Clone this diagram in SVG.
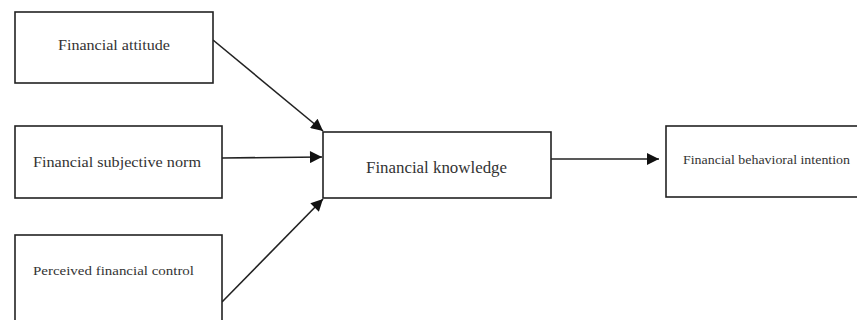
<svg xmlns="http://www.w3.org/2000/svg" width="857" height="320" viewBox="0 0 857 320">
<style>
.box{fill:#fff;stroke:#222;stroke-width:1.6}
.t{font-family:"Liberation Serif","Times New Roman",serif;fill:#333}
.c{stroke:#222;stroke-width:1.6;fill:none;marker-end:url(#ah)}
</style>
<defs>
<marker id="ah" viewBox="0 0 12 12" refX="12" refY="6" markerWidth="13" markerHeight="12" markerUnits="userSpaceOnUse" orient="auto">
<path d="M0,0 L12,6 L0,12 Z" fill="#111"/>
</marker>
</defs>
<rect width="857" height="320" fill="#fff"/>
<g id="connectors">
<line class="c" x1="213" y1="40" x2="323" y2="131"/>
<line class="c" x1="222" y1="158" x2="322" y2="157"/>
<line class="c" x1="222" y1="302" x2="323" y2="199"/>
<line class="c" x1="551" y1="159" x2="659" y2="159"/>
</g>
<g id="attitude">
<rect class="box" x="15" y="12" width="198" height="71"/>
<text class="t" x="58" y="50" font-size="14" textLength="112" lengthAdjust="spacingAndGlyphs">Financial attitude</text>
</g>
<g id="subjective-norm">
<rect class="box" x="15" y="126" width="207" height="72"/>
<text class="t" x="33" y="167" font-size="14" textLength="168" lengthAdjust="spacingAndGlyphs">Financial subjective norm</text>
</g>
<g id="perceived-control">
<rect class="box" x="15" y="235" width="207" height="100"/>
<text class="t" x="33" y="275" font-size="13.5" textLength="161" lengthAdjust="spacingAndGlyphs">Perceived financial control</text>
</g>
<g id="knowledge">
<rect class="box" x="323" y="132" width="228" height="66"/>
<text class="t" x="366" y="173" font-size="16" textLength="141" lengthAdjust="spacingAndGlyphs">Financial knowledge</text>
</g>
<g id="intention">
<rect class="box" x="666" y="126" width="200" height="71"/>
<text class="t" x="683" y="164" font-size="11.5" textLength="167" lengthAdjust="spacingAndGlyphs">Financial behavioral intention</text>
</g>
</svg>
